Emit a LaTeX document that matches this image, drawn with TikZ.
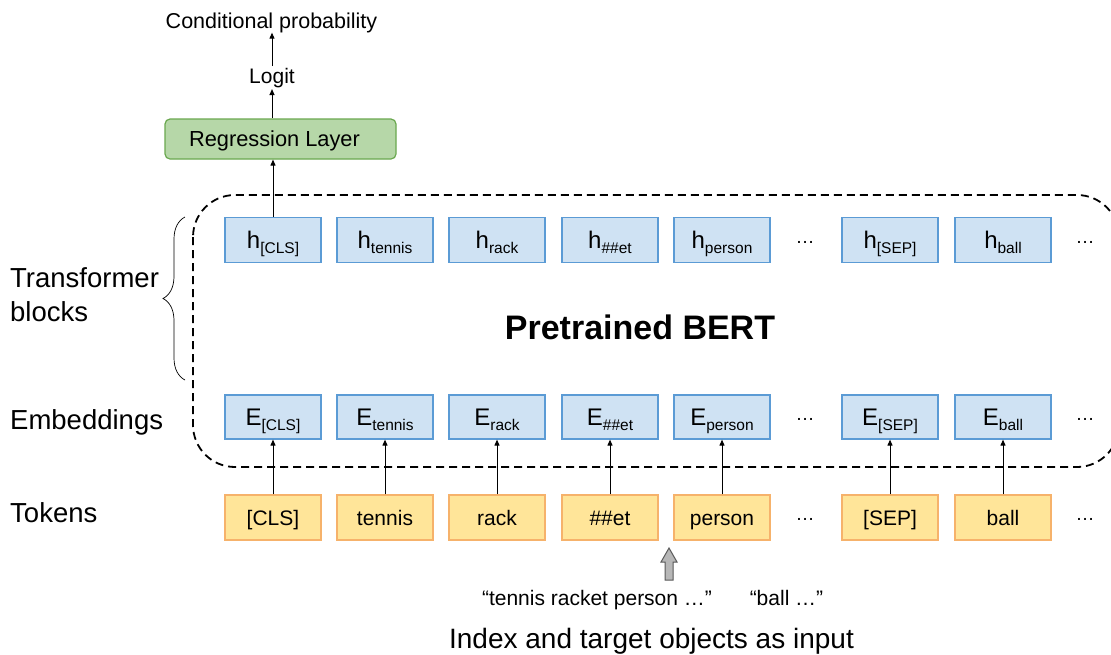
\documentclass[tikz,border=0pt]{standalone}
\usepackage{fontspec}
\setmainfont{Liberation Sans}
\usetikzlibrary{decorations.pathreplacing,arrows.meta}
\definecolor{bluefill}{HTML}{CFE2F3}
\definecolor{blueline}{HTML}{5B9BD5}
\definecolor{tokfill}{HTML}{FFE599}
\definecolor{tokline}{HTML}{F6B26B}
\definecolor{greenfill}{HTML}{B6D7A8}
\definecolor{greenline}{HTML}{6AA84F}
\definecolor{grayfill}{HTML}{B7B7B7}
\definecolor{grayline}{HTML}{595959}
\newcommand\fs[1]{\fontsize{#1}{#1}\selectfont}
\newcommand\hsub[2]{{\fs{24}#1}\raisebox{-5pt}{\fs{15.5}#2}}
\begin{document}
\begin{tikzpicture}[x=1pt,y=-1pt,
  hbox/.style={draw=blueline, fill=bluefill, line width=1.2pt, minimum width=96pt, minimum height=45pt, inner sep=0pt, text height=17pt, text depth=0pt},
  tok/.style={draw=tokline, fill=tokfill, line width=1.2pt, minimum width=96pt, minimum height=45pt, inner sep=0pt, text height=15pt, text depth=0pt, font=\fs{21}},
  dots/.style={font=\fs{19}, inner sep=0pt},
  lab/.style={font=\fs{27.5}, inner sep=0pt, anchor=base west},
  arr/.style={line width=1pt, -{Triangle[length=6pt,width=5pt]}},
]
\useasboundingbox (0,0) rectangle (1111,654);
\clip (0,0) rectangle (1111,654);

% dashed pretrained region
\draw[line width=1.8pt, dash pattern=on 8pt off 5pt, rounded corners=42pt] (193,195) rectangle (1119,467);
\node[font=\fs{34}\bfseries, anchor=base, inner sep=0pt] (bert) at (640,339) {Pretrained BERT};

% top part
\node[draw=greenline, fill=greenfill, line width=1.2pt, rounded corners=5pt, minimum width=231pt, minimum height=40pt, inner sep=0pt, text height=15pt, text depth=0pt, font=\fs{21.8}] (reg) at (280.5,139) {Regression Layer\hspace*{12pt}};
\node[font=\fs{21}, anchor=base, inner sep=1.5pt] (logit) at (272,83) {Logit};
\node[font=\fs{21.5}, anchor=base, inner sep=0pt] (cp) at (271.5,28) {Conditional probability};

% h row
\node[hbox] (h1) at (273,240) {\hsub{h}{[CLS]}};
\node[hbox] (h2) at (385,240) {\hsub{h}{tennis}};
\node[hbox] (h3) at (497,240) {\hsub{h}{rack}};
\node[hbox] (h4) at (610,240) {\hsub{h}{\#\#et}};
\node[hbox] (h5) at (722,240) {\hsub{h}{person}};
\node[dots] (hd1) at (805,242) {…};
\node[hbox] (h6) at (890,240) {\hsub{h}{[SEP]}};
\node[hbox] (h7) at (1003,240) {\hsub{h}{ball}};
\node[dots] (hd2) at (1085,242) {…};

% E row
\node[hbox, minimum height=44pt] (e1) at (273,417) {\hsub{E}{[CLS]}};
\node[hbox, minimum height=44pt] (e2) at (385,417) {\hsub{E}{tennis}};
\node[hbox, minimum height=44pt] (e3) at (497,417) {\hsub{E}{rack}};
\node[hbox, minimum height=44pt] (e4) at (610,417) {\hsub{E}{\#\#et}};
\node[hbox, minimum height=44pt] (e5) at (722,417) {\hsub{E}{person}};
\node[dots] (ed1) at (805,419) {…};
\node[hbox, minimum height=44pt] (e6) at (890,417) {\hsub{E}{[SEP]}};
\node[hbox, minimum height=44pt] (e7) at (1003,417) {\hsub{E}{ball}};
\node[dots] (ed2) at (1085,419) {…};

% token row
\node[tok] (t1) at (273,517.5) {[CLS]};
\node[tok] (t2) at (385,517.5) {tennis};
\node[tok] (t3) at (497,517.5) {rack};
\node[tok] (t4) at (610,517.5) {\#\#et};
\node[tok] (t5) at (722,517.5) {person};
\node[dots] (td1) at (805,519) {…};
\node[tok] (t6) at (890,517.5) {[SEP]};
\node[tok] (t7) at (1003,517.5) {ball};
\node[dots] (td2) at (1085,519) {…};

% arrows
\foreach \i in {1,...,7} {\draw[arr] (t\i.north) -- (e\i.south);}
\draw[arr] (h1.north) -- (h1.north |- reg.south);
\draw[arr] (logit.north |- reg.north) -- (logit.south);
\draw[arr] (logit.north) -- (logit.north |- cp.south);

% left labels
\node[lab] (tb1) at (10,287) {Transformer};
\node[lab] (tb2) at (10,321) {blocks};
\node[lab] (emb) at (10,429) {Embeddings};
\node[lab] (tks) at (10,522) {Tokens};
\draw[line width=0.7pt, decorate, decoration={brace, amplitude=22pt}] (185,380) -- (185,217);

% input
\draw[fill=grayfill, draw=grayline, line width=1pt, line join=miter] (665,580) -- (665,562) -- (661,562) -- (669,548) -- (677,562) -- (673,562) -- (673,580) -- cycle;
\node[font=\fs{21}, anchor=base, inner sep=0pt] (q1) at (597,605) {“tennis racket person …”};
\node[font=\fs{21}, anchor=base, inner sep=0pt] (q2) at (786.5,605) {“ball …”};
\node[font=\fs{28}, anchor=base, inner sep=0pt] (idx) at (651.5,648) {Index and target objects as input};
\end{tikzpicture}
\end{document}
